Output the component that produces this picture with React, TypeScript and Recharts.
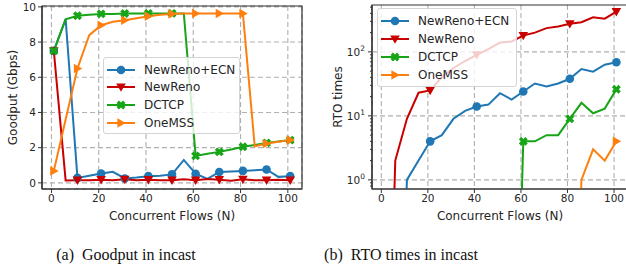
import {
  CartesianGrid,
  Legend,
  Line,
  LineChart,
  ReferenceArea,
  ReferenceLine,
  XAxis,
  YAxis,
} from "recharts";

// number of concurrent flows (x)
const flows = [1, 6, 11, 16, 21, 26, 31, 36, 41, 46, 51, 56, 61, 66, 71, 76, 81, 86, 91, 96, 101];

// goodput (Gbps)
const goodputEcn = [7.5, 9.3, 0.28, 0.4, 0.53, 0.63, 0.25, 0.3, 0.38, 0.4, 0.48, 1.3, 0.52, 0.22, 0.62, 0.65, 0.68, 0.72, 0.76, 0.34, 0.38];
const goodputReno = [7.5, 0.14, 0.15, 0.15, 0.18, 0.15, 0.2, 0.15, 0.18, 0.15, 0.15, 0.2, 0.15, 0.22, 0.18, 0.12, 0.2, 0.15, 0.15, 0.18, 0.15];
const goodputDctcp = [7.5, 9.3, 9.5, 9.55, 9.6, 9.6, 9.62, 9.62, 9.63, 9.63, 9.63, 9.63, 1.53, 1.65, 1.76, 1.9, 2.05, 2.15, 2.27, 2.35, 2.43];
const goodputOneMss = [0.68, 3.6, 6.5, 8.39, 8.96, 9.15, 9.24, 9.35, 9.47, 9.55, 9.6, 9.62, 9.62, 9.62, 9.62, 9.62, 9.62, 2.08, 2.24, 2.33, 2.43];

// RTO counts (0 = none, drawn below the log axis)
const rtoEcn = [0, 0, 1, 2, 4, 5, 9, 12, 14, 15, 22.6, 18, 24, 32, 28.7, 32, 38, 54, 49, 63, 69];
const rtoReno = [0, 2, 9, 23, 25, 40, 56, 72, 90, 110, 140, 145, 180, 200, 235, 250, 275, 290, 348, 330, 426];
const rtoDctcp = [0, 0, 0, 0, 0, 0, 0, 0, 0, 0, 0, 0, 4, 4, 5, 5, 9, 16, 11, 13, 26];
const rtoOneMss = [0, 0, 0, 0, 0, 0, 0, 0, 0, 0, 0, 0, 0, 0, 0, 0, 0, 1, 3, 2, 4];

const xTicks = [0, 20, 40, 60, 80, 100];
const goodputTicks = [0, 2, 4, 6, 8, 10];
const rtoMajorTicks = [1, 10, 100];
const rtoMinorTicks = [0.8, 0.9, 2, 3, 4, 5, 6, 7, 8, 9, 20, 30, 40, 50, 60, 70, 80, 90, 200, 300, 400, 500];

const series = [
  { key: "ecn", name: "NewReno+ECN", color: "#1f77b4", shape: "circle" },
  { key: "reno", name: "NewReno", color: "#c80000", shape: "tri-down" },
  { key: "dctcp", name: "DCTCP", color: "#17a417", shape: "x" },
  { key: "onemss", name: "OneMSS", color: "#ff7f0e", shape: "tri-right" },
];

const goodputData = flows.map((n, i) => ({
  n,
  ecn: goodputEcn[i],
  reno: goodputReno[i],
  dctcp: goodputDctcp[i],
  onemss: goodputOneMss[i],
}));

// like matplotlib's nonpositive="clip": zeros go far below the axis
const clipLog = (v: number) => (v > 0 ? v : 1e-6);
const rtoData = flows.map((n, i) => ({
  n,
  ecn: clipLog(rtoEcn[i]),
  reno: clipLog(rtoReno[i]),
  dctcp: clipLog(rtoDctcp[i]),
  onemss: clipLog(rtoOneMss[i]),
}));

const FONT = "'DejaVu Sans', sans-serif";
const INK = "#262626";
const SPINE = "#333";
const GRID = "#b0b0b0";

function Marker({ shape, color, cx, cy }: { shape: string; color: string; cx: number; cy: number }) {
  if (shape === "circle") return <circle cx={cx} cy={cy} r={4.3} fill={color} />;
  if (shape === "tri-down")
    return <polygon points={`${cx - 4.8},${cy - 3.6} ${cx + 4.8},${cy - 3.6} ${cx},${cy + 4.8}`} fill={color} />;
  if (shape === "tri-right")
    return <polygon points={`${cx - 3.6},${cy - 4.8} ${cx - 3.6},${cy + 4.8} ${cx + 4.8},${cy}`} fill={color} />;
  const a = 4.6;
  const t = 1.7;
  const pts = [
    [t, a], [t, t], [a, t], [a, -t], [t, -t], [t, -a],
    [-t, -a], [-t, -t], [-a, -t], [-a, t], [-t, t], [-t, a],
  ]
    .map(([px, py]) => `${cx + px},${cy + py}`)
    .join(" ");
  return <polygon points={pts} fill={color} transform={`rotate(45 ${cx} ${cy})`} />;
}

// markers only on every `every`-th point, like matplotlib's markevery
const makeDot = (shape: string, color: string, every: number) => (props: any) => {
  const { cx, cy, index } = props;
  if (index % every !== 0 || !Number.isFinite(cx) || !Number.isFinite(cy)) return <g key={`d${index}`} />;
  return (
    <g key={`d${index}`}>
      <Marker shape={shape} color={color} cx={cx} cy={cy} />
    </g>
  );
};

function LegendBox({ width, height, rowH, padTop }: { width: number; height: number; rowH: number; padTop: number }) {
  return (
    <div
      style={{
        width,
        height,
        boxSizing: "border-box",
        background: "rgba(255,255,255,0.8)",
        border: "1px solid #d4d4d4",
        borderRadius: 3,
        paddingTop: padTop,
        fontFamily: FONT,
        fontSize: 12,
        color: INK,
      }}
    >
      {series.map((s) => (
        <div key={s.key} style={{ display: "flex", alignItems: "center", height: rowH }}>
          <svg width={28} height={12} style={{ marginLeft: 3, flex: "none" }}>
            <line x1={0} x2={28} y1={6} y2={6} stroke={s.color} strokeWidth={2} />
            <Marker shape={s.shape} color={s.color} cx={14} cy={6} />
          </svg>
          <span style={{ marginLeft: 9, whiteSpace: "nowrap" }}>{s.name}</span>
        </div>
      ))}
    </div>
  );
}

const yLabel = (text: string, dx: number) => (props: any) => {
  const vb = props.viewBox;
  const x = vb.x + dx;
  const y = vb.y + vb.height / 2;
  return (
    <text
      x={x}
      y={y}
      transform={`rotate(-90 ${x} ${y})`}
      textAnchor="middle"
      dominantBaseline="central"
      fontFamily={FONT}
      fontSize={12}
      fill={INK}
    >
      {text}
    </text>
  );
};

function LogTick(props: any) {
  const { x, y, payload } = props;
  const v = payload.value;
  const major = rtoMajorTicks.includes(v);
  const axisX = x + 3 + 4;
  return (
    <g>
      <line x1={axisX - (major ? 4 : 2)} x2={axisX} y1={y} y2={y} stroke={SPINE} strokeWidth={1} />
      {major && (
        <text x={x} y={y} dy="0.35em" textAnchor="end" fontFamily={FONT} fontSize={10.5} fill={INK}>
          10
          <tspan dy={-5} fontSize={7.5}>
            {Math.round(Math.log10(v))}
          </tspan>
        </text>
      )}
    </g>
  );
}

const tickStyle = { fontSize: 10.5, fill: INK, fontFamily: FONT };
const xLabel = {
  value: "Concurrent Flows (N)",
  position: "insideBottom" as const,
  offset: 5,
  fontSize: 12,
  fill: INK,
  fontFamily: FONT,
};

function GoodputChart() {
  return (
    <LineChart width={310} height={225} data={goodputData} margin={{ top: 6, right: 8, bottom: 0, left: 0 }}>
      <CartesianGrid stroke={GRID} strokeDasharray="5 3" strokeWidth={1.1} />
      <XAxis
        dataKey="n"
        type="number"
        domain={[-4, 106]}
        ticks={xTicks}
        interval={0}
        allowDataOverflow
        tickSize={4}
        tickMargin={2}
        tick={tickStyle}
        axisLine={{ stroke: SPINE, strokeWidth: 1.2 }}
        tickLine={{ stroke: SPINE }}
        height={36}
        label={xLabel}
      />
      <YAxis
        type="number"
        domain={[-0.35, 10.05]}
        ticks={goodputTicks}
        interval={0}
        allowDataOverflow
        tickSize={4}
        tickMargin={2}
        tick={tickStyle}
        axisLine={{ stroke: SPINE, strokeWidth: 1.2 }}
        tickLine={{ stroke: SPINE }}
        width={42}
        label={yLabel("Goodput (Gbps)", 13)}
      />
      {series.map((s) => (
        <Line
          key={s.key}
          dataKey={s.key}
          name={s.name}
          type="linear"
          stroke={s.color}
          strokeWidth={2}
          dot={makeDot(s.shape, s.color, 2)}
          activeDot={false}
          isAnimationActive={false}
        />
      ))}
      <ReferenceArea x1={-4} x2={106} y1={-0.35} y2={10.05} fill="none" stroke={SPINE} strokeWidth={1.2} />
      <Legend
        layout="horizontal"
        align="center"
        verticalAlign="middle"
        wrapperStyle={{ left: 103, top: 57, width: 137 }}
        content={() => <LegendBox width={137} height={77} rowH={17.6} padTop={3} />}
      />
    </LineChart>
  );
}

function RtoChart() {
  return (
    <LineChart width={320} height={225} data={rtoData} margin={{ top: 5, right: 2, bottom: 0, left: 0 }}>
      <CartesianGrid stroke={GRID} strokeDasharray="5 3" strokeWidth={1.1} horizontal={false} />
      {rtoMajorTicks.map((v) => (
        <ReferenceLine key={v} y={v} stroke={GRID} strokeDasharray="5 3" strokeWidth={1.1} />
      ))}
      <XAxis
        dataKey="n"
        type="number"
        domain={[-4, 106]}
        ticks={xTicks}
        interval={0}
        allowDataOverflow
        tickSize={4}
        tickMargin={2}
        tick={tickStyle}
        axisLine={{ stroke: SPINE, strokeWidth: 1.2 }}
        tickLine={{ stroke: SPINE }}
        height={36}
        label={xLabel}
      />
      <YAxis
        type="number"
        scale="log"
        domain={[0.72, 540]}
        ticks={[...rtoMajorTicks, ...rtoMinorTicks]}
        interval={0}
        allowDataOverflow
        tickSize={4}
        tickMargin={3}
        tick={<LogTick />}
        tickLine={false}
        axisLine={{ stroke: SPINE, strokeWidth: 1.2 }}
        width={62}
        label={yLabel("RTO times", 28)}
      />
      {series.map((s) => (
        <Line
          key={s.key}
          dataKey={s.key}
          name={s.name}
          type="linear"
          stroke={s.color}
          strokeWidth={2}
          dot={makeDot(s.shape, s.color, 4)}
          activeDot={false}
          isAnimationActive={false}
        />
      ))}
      <ReferenceArea x1={-4} x2={106} y1={0.72} y2={540} fill="none" stroke={SPINE} strokeWidth={1.2} />
      <Legend
        layout="horizontal"
        align="center"
        verticalAlign="middle"
        wrapperStyle={{ left: 67, top: 8, width: 140 }}
        content={() => <LegendBox width={140} height={79} rowH={18} padTop={3} />}
      />
    </LineChart>
  );
}

const captionStyle = {
  position: "absolute" as const,
  top: 246,
  fontFamily: "'Liberation Serif', 'Times New Roman', serif",
  fontSize: 16,
  color: "#111",
  whiteSpace: "pre" as const,
  transform: "translateX(-50%)",
};

export default function App() {
  return (
    <div
      style={{
        position: "absolute",
        left: 0,
        top: 0,
        width: 626,
        height: 272,
        overflow: "hidden",
        background: "#fff",
      }}
    >
      <div style={{ position: "absolute", left: 0, top: 0 }}>
        <GoodputChart />
      </div>
      <div style={{ position: "absolute", left: 310, top: 0 }}>
        <RtoChart />
      </div>
      <div style={{ ...captionStyle, left: 126 }}>(a)  Goodput in incast</div>
      <div style={{ ...captionStyle, left: 401 }}>(b)  RTO times in incast</div>
    </div>
  );
}
